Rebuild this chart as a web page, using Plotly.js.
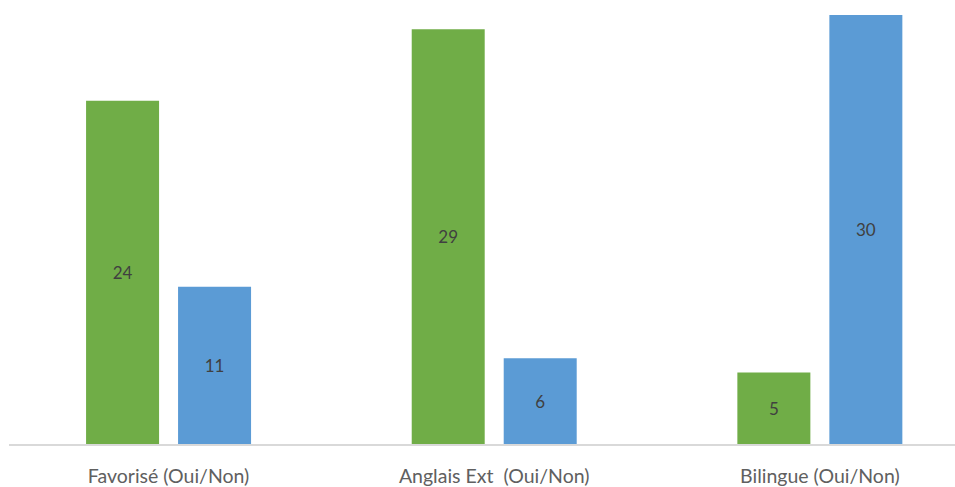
<!DOCTYPE html>
<html>
<head>
<meta charset="utf-8">
<script src="https://cdn.plot.ly/plotly-3.0.1.min.js"></script>
<style>html,body{margin:0;padding:0;background:#fff;}#chart{width:955px;height:487px;}</style>
</head>
<body>
<div id="chart"></div>
<script>
const categories = ["Favorisé (Oui/Non)", "Anglais Ext  (Oui/Non)", "Bilingue (Oui/Non)"];
const ouiValues = [24, 29, 5];
const nonValues = [11, 6, 30];
const ouiColor = "#70AD47";
const nonColor = "#5B9BD5";

const common = {
  type: "bar",
  x: categories,
  textposition: "inside",
  insidetextanchor: "middle",
  textfont: {family: "Lato, Open Sans, sans-serif", size: 17, color: "#404040"},
  hoverinfo: "x+y",
  cliponaxis: false
};
const traces = [
  Object.assign({}, common, {name: "Oui", y: ouiValues, text: ouiValues.map(String), marker: {color: ouiColor}}),
  Object.assign({}, common, {name: "Non", y: nonValues, text: nonValues.map(String), marker: {color: nonColor}})
];
const layout = {
  width: 955, height: 487,
  margin: {l: 9, r: 0, t: 0, b: 43},
  paper_bgcolor: "#fff", plot_bgcolor: "#fff",
  showlegend: false,
  barmode: "group",
  bargap: 0.435,
  bargroupgap: 0.2065,
  font: {family: "Lato, Open Sans, sans-serif", color: "#595959"},
  xaxis: {
    range: [-0.49, 2.415],
    showgrid: false, zeroline: false,
    showline: true, linecolor: "#D9D9D9", linewidth: 1.5,
    ticks: "", ticklabelstandoff: 14,
    tickfont: {size: 19.5, color: "#606060"}
  },
  yaxis: {
    range: [0, 31.05],
    showgrid: false, zeroline: false, showline: false,
    showticklabels: false, ticks: ""
  }
};
Plotly.newPlot("chart", traces, layout, {displayModeBar: false, staticPlot: true});
</script>
</body>
</html>
